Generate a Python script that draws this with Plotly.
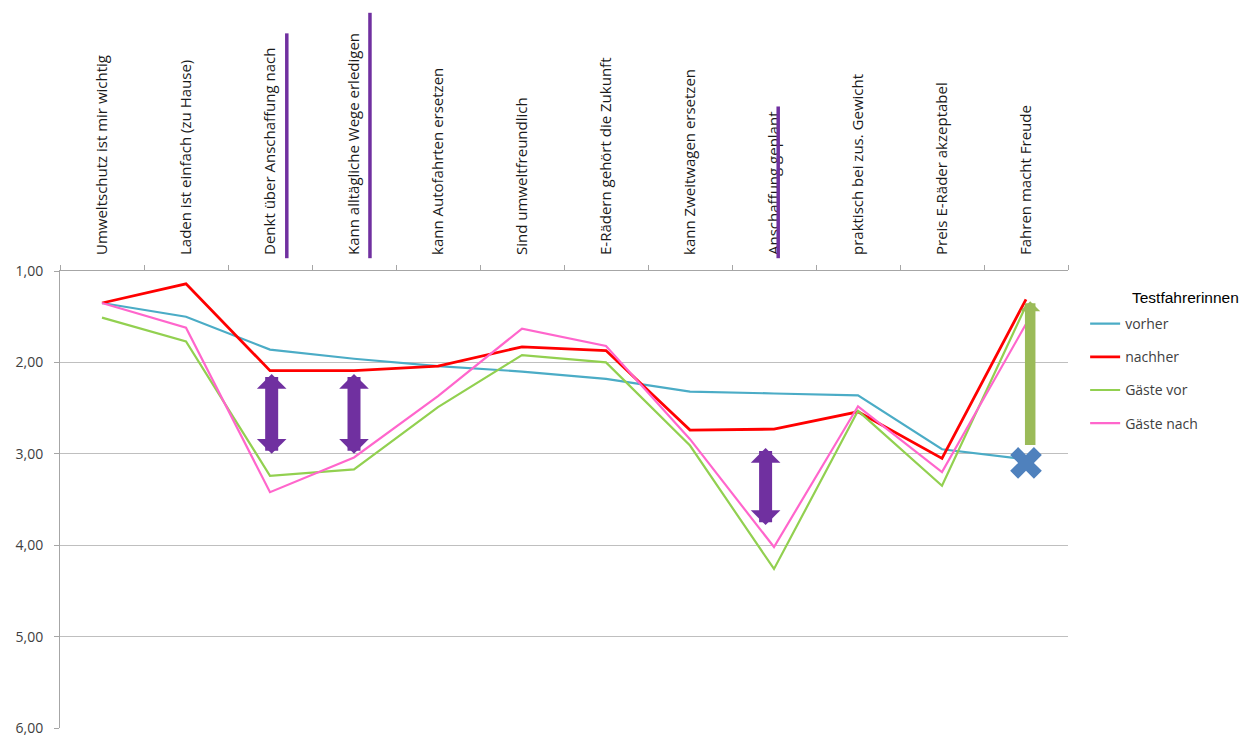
import plotly.graph_objects as go

categories = [
    "Umweltschutz ist mir wichtig",
    "Laden ist einfach (zu Hause)",
    "Denkt über Anschaffung nach",
    "Kann alltägliche Wege erledigen",
    "kann Autofahrten ersetzen",
    "Sind umweltfreundlich",
    "E-Rädern gehört die Zukunft",
    "kann Zweitwagen ersetzen",
    "Anschaffung geplant",
    "praktisch bei zus. Gewicht",
    "Preis E-Räder akzeptabel",
    "Fahren macht Freude",
]

vorher = [1.35, 1.50, 1.86, 1.96, 2.04, 2.10, 2.18, 2.32, 2.34, 2.36, 2.95, 3.06]
nachher = [1.35, 1.14, 2.09, 2.09, 2.04, 1.83, 1.87, 2.74, 2.73, 2.54, 3.05, 1.31]
gaeste_vor = [1.51, 1.77, 3.24, 3.17, 2.49, 1.92, 2.00, 2.91, 4.26, 2.53, 3.35, 1.38]
gaeste_nach = [1.35, 1.62, 3.42, 3.04, 2.37, 1.63, 1.82, 2.84, 4.02, 2.48, 3.20, 1.58]

series_names = ["vorher", "nachher", "Gäste vor", "Gäste nach"]
series_values = [vorher, nachher, gaeste_vor, gaeste_nach]
series_colors = ["#4BACC6", "#FF0000", "#92D050", "#FF66CC"]
series_widths = [2.2, 2.8, 2.2, 2.2]

y_ticks = [1, 2, 3, 4, 5, 6]

# annotation marks (category index, from value, to value)
purple_arrows = [(2.02, 2.11, 3.00), (3.0, 2.11, 3.00), (7.9, 2.92, 3.78)]
green_arrow = (11.05, 2.92, 1.33)
cross_point = ("Fahren macht Freude", 3.10)
label_bars = [(2.2, 1.028, 1.52), (3.19, 1.028, 1.565), (8.05, 1.028, 1.36)]

fig = go.Figure()
for name, vals, col, w in zip(series_names, series_values, series_colors, series_widths):
    fig.add_trace(go.Scatter(
        x=categories, y=vals, mode="lines", name=name, legendgroup=name,
        line=dict(color=col, width=w),
    ))

fig.add_trace(go.Scatter(
    x=[cross_point[0]], y=[cross_point[1]], mode="markers", showlegend=False,
    marker=dict(symbol="x", size=28, color="#4F81BD", line=dict(width=0)),
))

for xc, y0, y1 in purple_arrows:
    fig.add_annotation(
        x=xc, y=y1, ax=xc, ay=y0, xref="x", yref="y", axref="x", ayref="y",
        text="", showarrow=True, arrowhead=1, startarrowhead=1,
        arrowside="end+start", arrowwidth=13, arrowsize=0.38, startarrowsize=0.38,
        arrowcolor="#7030A0",
    )

gx, gy0, gy1 = green_arrow
fig.add_annotation(
    x=gx, y=gy1, ax=gx, ay=gy0, xref="x", yref="y", axref="x", ayref="y",
    text="", showarrow=True, arrowhead=1, arrowwidth=10.5, arrowsize=0.32,
    arrowcolor="#9BBB59",
)

for xc, p0, p1 in label_bars:
    fig.add_shape(type="line", xref="x", yref="paper", x0=xc, x1=xc, y0=p0, y1=p1,
                  line=dict(color="#7030A0", width=3.5))

fig.add_annotation(
    x=1.0615, y=0.941, xref="paper", yref="paper", xanchor="left", yanchor="middle",
    text="Testfahrerinnen", showarrow=False,
    font=dict(family="Liberation Sans, Arial", size=15.5, color="#000000"),
)

fig.update_layout(
    width=1250, height=737,
    margin=dict(l=52, r=190, t=263, b=17),
    paper_bgcolor="white", plot_bgcolor="white",
    separators=",.",
    font=dict(family="Open Sans", size=13, color="#404040"),
    legend=dict(
        x=1.017, y=0.919, xanchor="left", yanchor="top",
        traceorder="grouped", tracegroupgap=12,
        font=dict(family="Open Sans", size=14, color="#404040"),
        itemwidth=30, bgcolor="rgba(0,0,0,0)",
    ),
    showlegend=True,
)

fig.update_xaxes(
    type="category", side="top", tickangle=-90, tickson="boundaries",
    ticks="outside", ticklen=5, tickcolor="#A6A6A6",
    showline=True, linecolor="#A6A6A6", linewidth=1,
    showgrid=False, zeroline=False, ticklabelstandoff=12, automargin=False,
    tickfont=dict(family="Open Sans", size=15, color="#1a1a1a"),
    range=[-0.5, 11.5],
)
fig.update_yaxes(
    range=[6, 1], tickvals=y_ticks, tickformat=".2f",
    ticks="outside", ticklen=5, tickcolor="#A6A6A6",
    showline=True, linecolor="#A6A6A6", linewidth=1,
    showgrid=True, gridcolor="#BFBFBF", gridwidth=1, zeroline=False,
    tickfont=dict(family="Open Sans", size=14, color="#404040"),
    ticklabelstandoff=8, automargin=False,
)

fig.write_html("out.html")
